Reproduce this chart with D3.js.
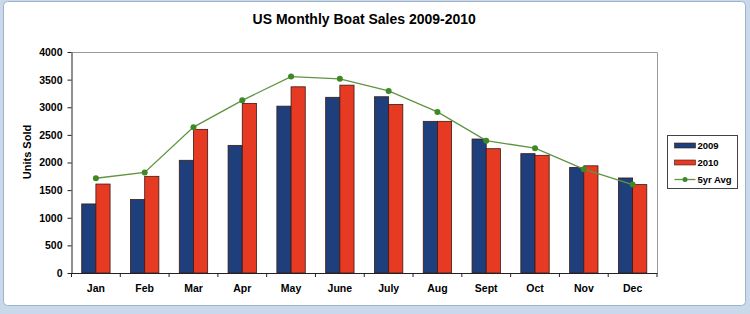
<!DOCTYPE html>
<html>
<head>
<meta charset="utf-8">
<script src="https://cdn.jsdelivr.net/npm/d3@7"></script>
<style>
    body { margin: 0; background: #fff; }
    text { font-family: "Liberation Sans", Arial, sans-serif; }
</style>
</head>
<body>
<script>
//Chart data
var months = ["Jan", "Feb", "Mar", "Apr", "May", "June", "July", "Aug", "Sept", "Oct", "Nov", "Dec"];
var sales2009 = [1250, 1330, 2040, 2310, 3020, 3180, 3190, 2745, 2425, 2160, 1910, 1720];
var sales2010 = [1610, 1750, 2600, 3070, 3370, 3400, 3050, 2745, 2250, 2130, 1940, 1600];
var avg5yr = [1715, 1820, 2640, 3125, 3555, 3515, 3295, 2915, 2395, 2260, 1880, 1600];
var yTicks = [0, 500, 1000, 1500, 2000, 2500, 3000, 3500, 4000];
var seriesNames = ["2009", "2010", "5yr Avg"];

var colors = {"2009": "#1f3f7c", "2010": "#e63b22", "5yr Avg": "#3d8a24"};

var width = 750, height = 314;
var margin = {left: 71.5, right: 93, top: 52, bottom: 41};

var svg = d3.select("body").append("svg")
        .attr("width", width)
        .attr("height", height);

//Window frame round the chart
svg.append("rect")
        .attr("width", width).attr("height", height)
        .attr("fill", "#c9d8ea");
svg.append("rect")
        .attr("x", 3.5).attr("y", 1.5)
        .attr("width", 742).attr("height", 304)
        .attr("rx", 4)
        .attr("fill", "#fff")
        .attr("stroke", "#9fb2c9");

///////////////////////////////////////////////////////////////////////////
/////////////////////////////// Scales ////////////////////////////////////
///////////////////////////////////////////////////////////////////////////

var x = d3.scaleBand()
        .domain(months)
        .range([margin.left, width - margin.right])
        .padding(0);

var x1 = d3.scaleBand()
        .domain(["2009", "2010"])
        .range([0, x.bandwidth()])
        .paddingInner(0)
        .paddingOuter(0.72);

var y = d3.scaleLinear()
        .domain([0, 4000])
        .range([height - margin.bottom, margin.top]);

var plotRight = width - margin.right;
var plotBottom = height - margin.bottom;

//Plot area border (top and right)
svg.append("path")
        .attr("d", "M" + margin.left + "," + (margin.top + 0.5) + "H" + (plotRight + 0.5) + "V" + plotBottom)
        .attr("fill", "none")
        .attr("stroke", "#9a9a9a");

//Title
svg.append("text")
        .attr("x", (margin.left + plotRight) / 2)
        .attr("y", 24)
        .attr("text-anchor", "middle")
        .style("font-size", "14px")
        .style("font-weight", "bold")
        .text("US Monthly Boat Sales 2009-2010");

///////////////////////////////////////////////////////////////////////////
/////////////////////////////// Bars //////////////////////////////////////
///////////////////////////////////////////////////////////////////////////

var barData = [];
months.forEach(function(m, i) {
    barData.push({month: m, series: "2009", value: sales2009[i]});
    barData.push({month: m, series: "2010", value: sales2010[i]});
});

svg.append("g")
        .selectAll("rect")
        .data(barData)
        .enter().append("rect")
        .attr("x", function(d) { return x(d.month) + x1(d.series); })
        .attr("y", function(d) { return y(d.value); })
        .attr("width", x1.bandwidth())
        .attr("height", function(d) { return y(0) - y(d.value); })
        .attr("fill", function(d) { return colors[d.series]; })
        .attr("stroke", "#3a1a14")
        .attr("stroke-width", 0.8);

///////////////////////////////////////////////////////////////////////////
/////////////////////////////// Axes //////////////////////////////////////
///////////////////////////////////////////////////////////////////////////

var yAxis = svg.append("g")
        .attr("transform", "translate(" + margin.left + ",0)")
        .call(d3.axisLeft(y).tickValues(yTicks).tickFormat(d3.format("d"))
                .tickSize(4).tickPadding(5).tickSizeOuter(0));

var xAxis = svg.append("g")
        .attr("transform", "translate(0," + plotBottom + ")")
        .call(d3.axisBottom(x).tickSize(0).tickPadding(12).tickSizeOuter(0));

//Tick marks sit between the months
xAxis.selectAll(".sep")
        .data(d3.range(months.length + 1))
        .enter().append("line")
        .attr("class", "sep")
        .attr("x1", function(i) { return margin.left + i * x.step(); })
        .attr("x2", function(i) { return margin.left + i * x.step(); })
        .attr("y1", 0)
        .attr("y2", 4)
        .attr("stroke", "#222");

[yAxis, xAxis].forEach(function(ax) {
    ax.select(".domain").attr("stroke", "#222");
    ax.selectAll(".tick line").attr("stroke", "#222");
    ax.selectAll("text")
            .style("font-size", "10.5px")
            .style("font-weight", "bold")
            .attr("fill", "#000");
});

svg.append("text")
        .attr("transform", "translate(31,152) rotate(-90)")
        .attr("text-anchor", "middle")
        .style("font-size", "11px")
        .style("font-weight", "bold")
        .text("Units Sold");

///////////////////////////////////////////////////////////////////////////
///////////////////////////// 5yr average /////////////////////////////////
///////////////////////////////////////////////////////////////////////////

var line = d3.line()
        .x(function(d, i) { return x(months[i]) + x.bandwidth() / 2; })
        .y(function(d) { return y(d); });

svg.append("path")
        .datum(avg5yr)
        .attr("d", line)
        .attr("fill", "none")
        .attr("stroke", "#5f9440")
        .attr("stroke-width", 1.3);

svg.append("g")
        .selectAll("circle")
        .data(avg5yr)
        .enter().append("circle")
        .attr("cx", function(d, i) { return x(months[i]) + x.bandwidth() / 2; })
        .attr("cy", function(d) { return y(d); })
        .attr("r", 3)
        .attr("fill", colors["5yr Avg"]);

///////////////////////////////////////////////////////////////////////////
/////////////////////////////// Legend ////////////////////////////////////
///////////////////////////////////////////////////////////////////////////

var legend = svg.append("g")
        .attr("transform", "translate(667.5,135.5)");

legend.append("rect")
        .attr("width", 70)
        .attr("height", 53)
        .attr("fill", "#fff")
        .attr("stroke", "#444");

var item = legend.selectAll(".item")
        .data(seriesNames)
        .enter().append("g")
        .attr("class", "item")
        .attr("transform", function(d, i) { return "translate(7," + (10 + i * 17) + ")"; });

item.filter(function(d) { return d !== "5yr Avg"; })
        .append("rect")
        .attr("x", 0).attr("y", -2.5)
        .attr("width", 21).attr("height", 5)
        .attr("fill", function(d) { return colors[d]; })
        .attr("stroke", "#3a1a14")
        .attr("stroke-width", 0.6);

var avgItem = item.filter(function(d) { return d === "5yr Avg"; });
avgItem.append("line")
        .attr("x1", 0).attr("x2", 21)
        .attr("stroke", "#5f9440")
        .attr("stroke-width", 1.3);
avgItem.append("circle")
        .attr("cx", 10.5).attr("r", 2.5)
        .attr("fill", colors["5yr Avg"]);

item.append("text")
        .attr("x", 23)
        .attr("dy", "0.35em")
        .style("font-size", "9.5px")
        .style("font-weight", "bold")
        .text(function(d) { return d; });
</script>
</body>
</html>
